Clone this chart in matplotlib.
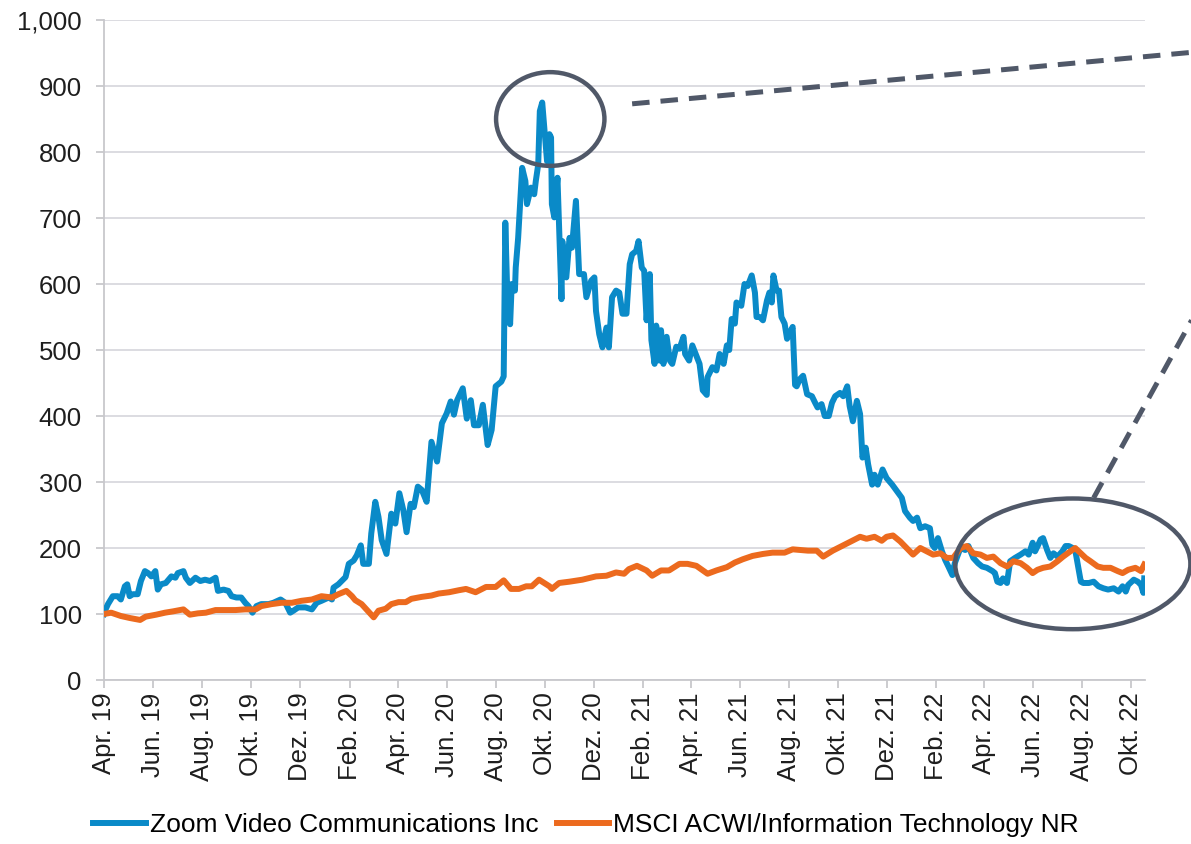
"""
Zoom Video vs MSCI ACWI IT, indexed to 100 at IPO (18 Apr 2019)
"""
import numpy as np
import pandas as pd
import matplotlib
matplotlib.use('Agg')
import matplotlib.pyplot as plt
import matplotlib.dates as mdates
from matplotlib.patches import Ellipse
from matplotlib.ticker import FuncFormatter

plt.rcParams['font.family'] = ['Liberation Sans', 'DejaVu Sans']

start = pd.Timestamp('2019-04-18')
end_day = 1297

# days after start, indexed value
zoom_day = [0, 2, 5, 11, 17, 21, 26, 29, 32, 36, 42, 46, 51, 55, 59, 64, 67, 71, 77, 84,
            89, 92, 99, 102, 107, 114, 120, 126, 132, 139, 142, 149, 155, 159, 165, 171,
            176, 180, 185, 190, 196, 205, 211, 220, 226, 232, 236, 242, 251, 259, 265,
            271, 280, 284, 286, 292, 301, 305, 311, 315, 320, 323, 330, 333, 338, 342,
            346, 352, 358, 363, 368, 373, 377, 382, 386, 391, 396, 402, 408, 415, 421,
            427, 432, 436, 440, 447, 452, 457, 461, 467, 472, 478, 483, 488, 495, 498,
            500, 502, 506, 508, 512, 513, 516, 520, 521, 525, 527, 532, 536, 538, 541,
            543, 546, 550, 552, 555, 557, 558, 561, 565, 570, 571, 576, 580, 583, 588,
            592, 598, 601, 607, 611, 613, 617, 621, 626, 629, 633, 638, 642, 646, 651,
            652, 655, 658, 663, 666, 670, 673, 676, 680, 682, 686, 688, 692, 694, 697,
            701, 705, 708, 713, 717, 722, 724, 729, 733, 742, 746, 751, 752, 758, 763,
            767, 772, 776, 779, 782, 786, 788, 794, 798, 802, 807, 811, 813, 817, 821,
            826, 829, 832, 834, 838, 841, 844, 848, 851, 854, 858, 861, 863, 867, 871,
            876, 882, 886, 889, 894, 898, 903, 907, 911, 917, 921, 926, 929, 933, 938,
            942, 945, 949, 952, 957, 960, 964, 970, 975, 982, 988, 994, 998, 1004, 1008,
            1013, 1017, 1023, 1029, 1032, 1035, 1039, 1044, 1048, 1052, 1057, 1060, 1067,
            1073, 1077, 1083, 1089, 1094, 1100, 1107, 1110, 1113, 1117, 1120, 1125, 1129,
            1135, 1142, 1148, 1152, 1157, 1160, 1164, 1167, 1170, 1175, 1179, 1183, 1188,
            1194, 1198, 1202, 1207, 1210, 1214, 1217, 1220, 1227, 1233, 1239, 1245, 1251,
            1258, 1264, 1269, 1273, 1276, 1283, 1288, 1292, 1295, 1296]
zoom_val = [100, 107, 115, 127, 127, 122, 142, 145, 127, 130, 130, 150, 165, 162, 157, 165,
            137, 145, 147, 157, 155, 162, 165, 155, 147, 155, 150, 152, 150, 155, 135, 137,
            135, 127, 125, 125, 117, 112, 102, 112, 115, 115, 117, 122, 117, 102, 105, 110,
            110, 107, 117, 120, 125, 122, 140, 145, 156, 176, 181, 189, 204, 176, 176, 222,
            270, 247, 212, 191, 252, 237, 283, 257, 224, 267, 262, 293, 288, 270, 361, 331,
            389, 404, 422, 402, 424, 442, 396, 424, 386, 386, 417, 356, 379, 445, 452, 460,
            693, 605, 539, 600, 590, 625, 670, 756, 776, 756, 721, 746, 736, 756, 781, 862,
            875, 817, 786, 827, 822, 721, 701, 761, 577, 665, 610, 670, 655, 726, 615, 615,
            580, 605, 610, 559, 524, 504, 534, 504, 580, 590, 587, 555, 555, 575, 630, 645,
            650, 665, 625, 620, 545, 615, 515, 479, 537, 484, 530, 479, 520, 484, 479, 505,
            502, 520, 494, 484, 507, 479, 439, 432, 459, 474, 469, 494, 479, 507, 500, 547,
            540, 572, 567, 600, 597, 613, 587, 550, 550, 545, 575, 587, 572, 613, 590, 590,
            550, 540, 517, 525, 535, 447, 445, 456, 461, 433, 430, 420, 413, 418, 400, 400,
            420, 430, 435, 430, 445, 415, 392, 423, 403, 337, 352, 327, 296, 311, 296, 319,
            306, 296, 286, 276, 256, 246, 241, 246, 230, 233, 230, 205, 200, 215, 195, 182,
            172, 159, 177, 200, 197, 203, 185, 177, 172, 170, 165, 162, 149, 147, 154, 147,
            180, 185, 190, 195, 190, 208, 195, 205, 213, 215, 197, 185, 192, 187, 195, 203,
            203, 200, 197, 170, 149, 147, 147, 149, 142, 139, 137, 139, 134, 142, 134, 144,
            152, 149, 144, 132, 154]

msci_day = [0, 9, 21, 32, 45, 52, 65, 76, 86, 99, 107, 117, 127, 139, 151, 164, 176, 189,
            196, 209, 221, 234, 246, 259, 271, 284, 292, 302, 309, 313, 321, 330, 336, 342,
            351, 358, 367, 376, 383, 396, 408, 417, 430, 442, 451, 463, 476, 488, 498, 507,
            517, 526, 533, 542, 555, 558, 567, 580, 596, 613, 626, 638, 648, 654, 664, 676,
            683, 694, 704, 717, 727, 738, 752, 763, 776, 786, 796, 808, 821, 833, 848, 858,
            867, 877, 888, 896, 908, 921, 929, 942, 950, 960, 969, 975, 983, 992, 1000, 1008,
            1017, 1025, 1033, 1042, 1050, 1058, 1067, 1075, 1083, 1092, 1100, 1108, 1117,
            1125, 1133, 1142, 1150, 1157, 1163, 1170, 1179, 1188, 1195, 1204, 1210, 1217,
            1223, 1229, 1238, 1245, 1254, 1263, 1269, 1276, 1285, 1292, 1296]
msci_val = [100, 102, 97, 94, 91, 96, 99, 102, 104, 107, 99, 101, 102, 106, 106, 106, 107,
            107, 112, 115, 117, 117, 120, 122, 127, 125, 130, 135, 127, 121, 115, 103, 95,
            105, 108, 115, 118, 118, 123, 126, 128, 131, 133, 136, 138, 133, 141, 141, 151,
            138, 138, 142, 142, 152, 142, 138, 147, 149, 152, 157, 158, 163, 161, 168, 173,
            166, 158, 166, 166, 176, 176, 173, 161, 166, 171, 178, 183, 188, 191, 193, 193,
            198, 197, 196, 196, 187, 196, 204, 209, 217, 214, 217, 211, 217, 219, 210, 200,
            190, 200, 195, 190, 192, 185, 185, 200, 203, 192, 190, 185, 187, 177, 172, 180,
            177, 170, 162, 167, 170, 172, 180, 187, 195, 200, 192, 185, 180, 172, 170, 170,
            165, 162, 167, 170, 165, 175]

tick_labels = ['Apr. 19', 'Jun. 19', 'Aug. 19', 'Okt. 19', 'Dez. 19', 'Feb. 20', 'Apr. 20',
               'Jun. 20', 'Aug. 20', 'Okt. 20', 'Dez. 20', 'Feb. 21', 'Apr. 21', 'Jun. 21',
               'Aug. 21', 'Okt. 21', 'Dez. 21', 'Feb. 22', 'Apr. 22', 'Jun. 22', 'Aug. 22',
               'Okt. 22']

zoom_dates = start + pd.to_timedelta(zoom_day, unit='D')
msci_dates = start + pd.to_timedelta(msci_day, unit='D')
tick_dates = pd.date_range(start, periods=len(tick_labels), freq=pd.DateOffset(months=2))

blue = '#0A8AC8'
orange = '#EC6A1E'
grey = '#505868'

fig = plt.figure(figsize=(11.91, 8.44), dpi=100)
ax = fig.add_axes([0.0873, 0.1943, 0.8741, 0.7820])

ax.plot(zoom_dates, zoom_val, color=blue, lw=4.3, solid_joinstyle='round',
        label='Zoom Video Communications Inc', zorder=3)
ax.plot(msci_dates, msci_val, color=orange, lw=4.3, solid_joinstyle='round',
        label='MSCI ACWI/Information Technology NR', zorder=4)

ax.set_xlim(start, start + pd.Timedelta(days=end_day))
ax.set_ylim(0, 1000)
ax.set_yticks(np.arange(0, 1001, 100))
ax.yaxis.set_major_formatter(FuncFormatter(lambda v, p: '{:,.0f}'.format(v)))
ax.set_xticks(tick_dates)
ax.set_xticklabels(tick_labels, rotation=90)

ax.grid(axis='y', color='#D9D9DE', lw=1.3, zorder=0)
for s in ['top', 'right']:
    ax.spines[s].set_visible(False)
for s in ['left', 'bottom']:
    ax.spines[s].set_color('#C8C8CC')
    ax.spines[s].set_linewidth(1.3)
ax.tick_params(axis='both', colors='#C8C8CC', labelcolor='#1E1E1E', labelsize=18.5,
               length=6, width=1.3)
ax.tick_params(axis='y', pad=10)
ax.tick_params(axis='x', pad=3)

# annotations: circles round the peak and the recent range, dashed leaders
def dd(d):
    return start + pd.Timedelta(days=d)

e1 = Ellipse((mdates.date2num(dd(556)), 850), width=135, height=142, fill=False,
             edgecolor=grey, lw=3.2, clip_on=False, zorder=5)
e2 = Ellipse((mdates.date2num(dd(1207)), 176), width=293, height=198, fill=False,
             edgecolor=grey, lw=3.2, clip_on=False, zorder=5)
ax.add_patch(e1)
ax.add_patch(e2)
ax.plot([dd(658), dd(1355)], [873, 951], color=grey, lw=3.6, ls=(0, (3.5, 2.2)),
        clip_on=False, zorder=5)
ax.plot([dd(1233), dd(1355)], [276, 545], color=grey, lw=3.6, ls=(0, (3.5, 2.2)),
        clip_on=False, zorder=5)

fig.legend(loc='center', bbox_to_anchor=(0.492, 0.022), ncol=2, frameon=False,
           fontsize=19, handlelength=2.0, handletextpad=0.15, columnspacing=0.7,
           borderpad=0)

fig.savefig('out.png', dpi=100)
